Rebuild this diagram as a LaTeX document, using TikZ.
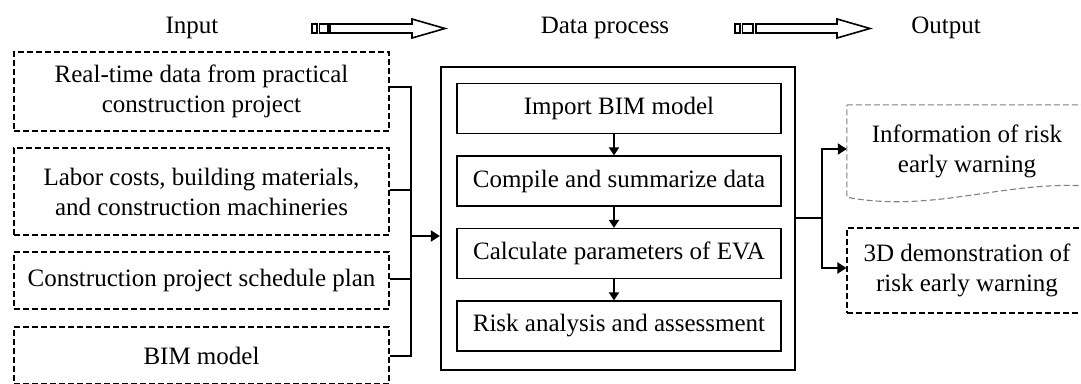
\documentclass[tikz,border=0pt]{standalone}
\usepackage{fontspec}
\setmainfont{Liberation Serif}
\usetikzlibrary{arrows.meta}
\begin{document}
\begin{tikzpicture}[x=1pt,y=-1pt,
  every node/.style={font=\fontsize{25}{30}\selectfont, align=center, inner sep=0pt},
  inbox/.style={draw, dash pattern=on 6pt off 3pt, line width=1.1pt, minimum width=375pt},
  stepbox/.style={draw, line width=1.3pt, minimum width=324pt, minimum height=50pt},
  conn/.style={line width=2pt},
  tipped/.style={-{Triangle[length=9pt,width=11pt]}},
  bigarrow/.style={draw, line width=1.6pt, fill=white}]
\useasboundingbox (0,0) rectangle (1081,383);
\clip (0,0) rectangle (1081,383);

% headings
\node (lin) at (192,28) {Input};
\node (lproc) at (605,28) {Data process};
\node (lout) at (946,28) {Output};

% heading arrows
\draw[bigarrow] (312,24) rectangle (317,33);
\draw[bigarrow] (319.5,24) rectangle (328,33);
\draw[bigarrow] (330,24) -- (412,24) -- (412,19) -- (445,28.5) -- (412,38) -- (412,33) -- (330,33) -- cycle;
\draw[bigarrow] (735,24) rectangle (740,33);
\draw[bigarrow] (742.5,24) rectangle (753,33);
\draw[bigarrow] (756,24) -- (837,24) -- (837,19) -- (870,28.5) -- (837,38) -- (837,33) -- (756,33) -- cycle;

% inputs
\node[inbox, minimum height=79pt] (in1) at (201.5,91.5) {Real-time data from practical\\construction project};
\node[inbox, minimum height=87pt] (in2) at (201.5,191.5) {Labor costs, building materials,\\and construction machineries};
\node[inbox, minimum height=57pt] (in3) at (201.5,280.5) {Construction project schedule plan};
\node[inbox, minimum height=57pt] (in4) at (201.5,355.5) {BIM model};

% process
\node[draw, line width=2.3pt, minimum width=354pt, minimum height=303pt] (proc) at (618,218.5) {};
\node[stepbox] (s1) at (619,108.5) {Import BIM model};
\node[stepbox] (s2) at (619,181) {Compile and summarize data};
\node[stepbox] (s3) at (619,253.5) {Calculate parameters of EVA};
\node[stepbox] (s4) at (619,326) {Risk analysis and assessment};
\foreach \a/\b in {s1/s2,s2/s3,s3/s4}
  \draw[line width=2pt, -{Triangle[length=8pt,width=10pt]}] ([xshift=-5pt]\a.south) -- ([xshift=-5pt]\b.north);

% outputs
\node[minimum width=240pt, minimum height=92pt] (out1) at (967,151) {Information of risk\\early warning};
\draw[gray, dash pattern=on 6pt off 3pt, line width=1.1pt]
  (out1.north west) -- ([xshift=10pt]out1.north east) -- ([xshift=10pt,yshift=-82pt]out1.north east)
  .. controls (1010,178) and (935,214) .. (out1.south west) -- cycle;
\node[draw, dash pattern=on 6pt off 3pt, line width=1.1pt, minimum width=240pt, minimum height=85pt] (out2) at (967,270.5) {3D demonstration of\\risk early warning};

% connectors in
\coordinate (j) at (411,236);
\draw[conn] ([yshift=5pt]in1.east) -| (j);
\draw[conn] ([yshift=1.5pt]in2.east) -| (j);
\draw[conn] ([yshift=1.5pt]in3.east) -| (j);
\draw[conn] (in4.east) -| (j);
\draw[conn, tipped] (j) -- (j -| proc.west);

% connectors out
\coordinate (k) at (822,218);
\draw[conn] (k -| proc.east) -- (k);
\draw[conn, tipped] (k) |- ([yshift=2pt]out1.west);
\draw[conn, tipped] (k) |- ([yshift=2.5pt]out2.west);
\end{tikzpicture}
\end{document}
